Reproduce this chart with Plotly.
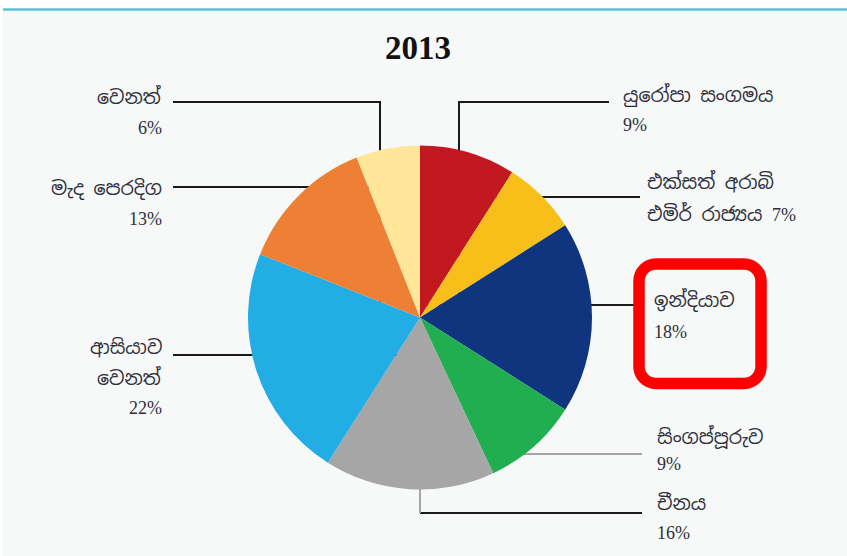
import plotly.graph_objects as go

# ---- data ----
labels = ["යුරෝපා සංගමය", "එක්සත් අරාබි එමිර් රාජ්‍යය", "ඉන්දියාව", "සිංගප්පූරුව",
          "චීනය", "ආසියාව වෙනත්", "මැද පෙරදිග", "වෙනත්"]
values = [9, 7, 18, 9, 16, 22, 13, 6]
colors = ["#C1191F", "#F8BF1A", "#0F357F", "#20AE50",
          "#A6A6A6", "#22AEE5", "#EE8035", "#FFE699"]
title_text = "2013"

W, H = 847, 556

def px(x):
    return x / W

def py(y):
    return 1 - y / H

# pie geometry (pixels)
cx, cy, r = 420, 317.5, 172

fig = go.Figure(go.Pie(
    labels=labels, values=values, sort=False, direction="clockwise", rotation=0,
    marker=dict(colors=colors, line=dict(width=0)),
    textinfo="none", hoverinfo="label+percent", showlegend=False,
    domain=dict(x=[px(cx - r), px(cx + r)], y=[py(cy + r), py(cy - r)]),
))

SIN = "Noto Sans Sinhala, Noto Serif Sinhala, Noto Sans, DejaVu Sans, sans-serif"
NUM = "Liberation Serif, Times New Roman, serif"

def val(v):
    return f"<span style='font-family:{NUM};font-size:18px'>{v}%</span>"

# label text layout: lines, anchor x, line y centres, align side
label_layout = [
    (0, ["යුරෝපා සංගමය", "{v}"], 621, [95, 125], "left"),
    (1, ["එක්සත් අරාබි", "එමිර් රාජ්‍යය {v}"], 645, [183, 214], "left"),
    (2, ["ඉන්දියාව", "{v}"], 652, [300, 332], "left"),
    (3, ["සිංගප්පූරුව", "{v}"], 655, [437, 464], "left"),
    (4, ["චීනය", "{v}"], 655, [503, 533], "left"),
    (5, ["ආසියාව", "වෙනත්", "{v}"], 164, [347, 378, 408], "right"),
    (6, ["මැද පෙරදිග", "{v}"], 164, [188, 219], "right"),
    (7, ["වෙනත්", "{v}"], 164, [97, 128], "right"),
]

annotations = []
for idx, lines, x, ys, side in label_layout:
    for line, y in zip(lines, ys):
        annotations.append(dict(
            x=px(x), y=py(y), xref="paper", yref="paper",
            text=line.format(v=val(values[idx])), showarrow=False,
            xanchor=side, yanchor="middle",
            font=dict(size=19, color="#2e2e3a", family=SIN),
        ))

annotations.append(dict(
    x=px(418), y=py(48), xref="paper", yref="paper", text="<b>" + title_text + "</b>",
    showarrow=False, xanchor="center", yanchor="middle",
    font=dict(size=33, color="#111111", family=NUM),
))

# leader lines (pixel paths, drawn below the pie)
leaders = [
    ([(609, 102), (459, 102), (459, cy)], "#1a1a1a"),
    ([(640, 197), (cx, 197)], "#1a1a1a"),
    ([(634, 305), (cx, 305)], "#1a1a1a"),
    ([(642, 454), (cx, 454)], "#A6A6A6"),
    ([(642, 513), (cx, 513)], "#1a1a1a"),
    ([(cx, 513), (cx, cy)], "#A6A6A6"),
    ([(173, 355), (cx, 355)], "#1a1a1a"),
    ([(173, 187), (cx, 187)], "#1a1a1a"),
    ([(173, 102), (380, 102), (380, cy)], "#1a1a1a"),
]

shapes = [
    dict(type="rect", xref="paper", yref="paper", x0=0, x1=1, y0=py(8), y1=1,
         fillcolor="white", line=dict(width=0), layer="below"),
    dict(type="rect", xref="paper", yref="paper", x0=0, x1=px(2.5), y0=0, y1=1,
         fillcolor="white", line=dict(width=0), layer="below"),
    dict(type="line", xref="paper", yref="paper", x0=px(3), x1=1, y0=py(9.5), y1=py(9.5),
         line=dict(color="#5BC0D3", width=2.5), layer="below"),
]
for pts, col in leaders:
    path = "M " + " L ".join(f"{px(x)},{py(y)}" for x, y in pts)
    shapes.append(dict(type="path", xref="paper", yref="paper", path=path,
                       line=dict(color=col, width=2), layer="below"))

# red rounded highlight box around the India label
def rounded_rect(x0, y0, x1, y1, rad):
    k = 0.5523 * rad
    P = lambda x, y: f"{px(x)},{py(y)}"
    return (
        f"M {P(x0 + rad, y0)} L {P(x1 - rad, y0)} "
        f"C {P(x1 - rad + k, y0)} {P(x1, y0 + rad - k)} {P(x1, y0 + rad)} "
        f"L {P(x1, y1 - rad)} "
        f"C {P(x1, y1 - rad + k)} {P(x1 - rad + k, y1)} {P(x1 - rad, y1)} "
        f"L {P(x0 + rad, y1)} "
        f"C {P(x0 + rad - k, y1)} {P(x0, y1 - rad + k)} {P(x0, y1 - rad)} "
        f"L {P(x0, y0 + rad)} "
        f"C {P(x0, y0 + rad - k)} {P(x0 + rad - k, y0)} {P(x0 + rad, y0)} Z"
    )

shapes.append(dict(type="path", xref="paper", yref="paper",
                   path=rounded_rect(639, 264, 761, 383.5, 17),
                   line=dict(color="#FF0000", width=11.5), layer="above"))

fig.update_layout(
    width=W, height=H,
    margin=dict(l=0, r=0, t=0, b=0),
    paper_bgcolor="#F7F9F9", plot_bgcolor="#F7F9F9",
    annotations=annotations, shapes=shapes,
)

fig.write_html(
    "out.html",
    config={"displayModeBar": False},
    post_script="document.body.style.margin='0';document.body.style.overflow='hidden';",
)
